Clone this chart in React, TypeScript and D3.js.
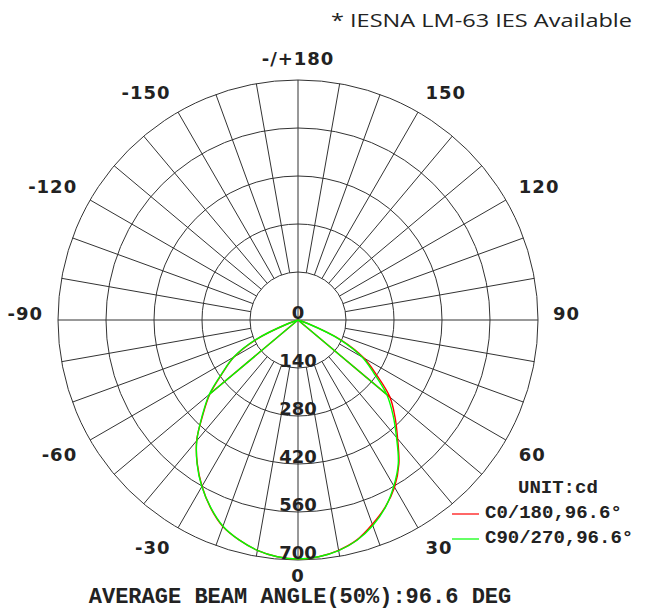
import * as d3 from 'd3';

// vertical angles (gamma) measured from nadir, and candela per C-plane
const gammaAngles = [0, 5, 10, 15, 20, 25, 30, 35, 40, 45, 50, 55, 60, 65, 70, 75, 80, 85, 90];
const c0Values = [697, 693, 682, 664, 634, 602, 563, 513, 452, 400, 350, 280, 222, 140, 35, 0, 0, 0, 0];
const c180Values = [697, 693, 682, 664, 641, 604, 560, 512, 460, 393, 335, 268, 215, 135, 30, 0, 0, 0, 0];
const c90Values = [697, 693, 683, 665, 638, 603, 559, 510, 447, 392, 338, 270, 215, 135, 30, 0, 0, 0, 0];
const c270Values = [697, 693, 682, 664, 640, 603, 561, 513, 459, 395, 338, 270, 216, 136, 32, 0, 0, 0, 0];
const chordGamma = 50;

const ringValues = [0, 140, 280, 420, 560, 700];
const angleTicks = [180, 150, 120, 90, 60, 30, 0, -30, -60, -90, -120, -150];
const angleTickLabels = ['-/+180', '150', '120', '90', '60', '30', '0', '-30', '-60', '-90', '-120', '-150'];

const legendNames = ['C0/180,96.6°', 'C90/270,96.6°'];
const unitLabel = 'UNIT:cd';
const beamLabel = 'AVERAGE BEAM ANGLE(50%):96.6 DEG';
const noteLabel = '* IESNA LM-63 IES Available';

const width = 650;
const height = 613;
const cx = 298;
const cy = 320;
const radius = 240;
const gridColor = '#333';
const textColor = '#222';
const colors = ['#ff0000', '#00ff00'];
const sansBold = '"DejaVu Sans", sans-serif';
const mono = '"Liberation Mono", "Courier New", monospace';

const r = d3.scaleLinear().domain([0, 700]).range([0, radius]);
// gamma 0 points down, positive gamma to the right
const rad = (g: number) => ((180 - g) * Math.PI) / 180;
const px = (g: number, v: number) => r(v) * Math.sin(rad(g));
const py = (g: number, v: number) => -r(v) * Math.cos(rad(g));

const curve = d3
  .lineRadial<[number, number]>()
  .angle((d) => rad(d[0]))
  .radius((d) => r(d[1]))
  .curve(d3.curveCatmullRom.alpha(0.5));

const chord = d3
  .lineRadial<[number, number]>()
  .angle((d) => rad(d[0]))
  .radius((d) => r(d[1]));

function planePaths(right: number[], left: number[]) {
  const pts: [number, number][] = [
    ...gammaAngles.map((g, i) => [-g, left[i]] as [number, number]).reverse(),
    ...gammaAngles.slice(1).map((g, i) => [g, right[i + 1]] as [number, number]),
  ];
  const k = gammaAngles.indexOf(chordGamma);
  return [
    curve(pts) as string,
    chord([[0, 0], [-chordGamma, left[k]]]) as string,
    chord([[0, 0], [chordGamma, right[k]]]) as string,
  ];
}

export default function App() {
  const planes = [planePaths(c0Values, c180Values), planePaths(c90Values, c270Values)];
  const spokes = d3.range(0, 360, 10);
  const labelR = 255;

  return (
    <svg
      width={width}
      height={height}
      viewBox={`0 0 ${width} ${height}`}
      style={{ position: 'absolute', left: 0, top: 0, background: '#fff' }}
    >
      <text
        x={632}
        y={27}
        textAnchor="end"
        fontFamily='"Open Sans", sans-serif'
        fontSize={19}
        textLength={301}
        lengthAdjust="spacingAndGlyphs"
        fill={textColor}
      >
        {noteLabel}
      </text>

      <g transform={`translate(${cx},${cy})`}>
        {ringValues.slice(1).map((v) => (
          <circle key={v} r={r(v)} fill="none" stroke={gridColor} strokeWidth={1} />
        ))}
        {spokes.map((a) => {
          const inner = a % 90 === 0 ? 0 : ringValues[1];
          return (
            <line
              key={a}
              x1={px(a, inner)}
              y1={py(a, inner)}
              x2={px(a, 700)}
              y2={py(a, 700)}
              stroke={gridColor}
              strokeWidth={1}
            />
          );
        })}

        {planes.map((paths, i) =>
          paths.map((d, j) => (
            <path key={`${i}-${j}`} d={d} fill="none" stroke={colors[i]} strokeWidth={1.4} />
          ))
        )}

        {ringValues.map((v) => (
          <text
            key={v}
            x={0}
            y={r(v) - 1}
            textAnchor="middle"
            fontFamily={sansBold}
            fontWeight="bold"
            fontSize={18}
            fill={textColor}
          >
            {v}
          </text>
        ))}

        {angleTicks.map((a, i) => {
          const x = px(a, r.invert(labelR));
          const y = py(a, r.invert(labelR));
          const anchor = a === 0 || a === 180 ? 'middle' : a > 0 ? 'start' : 'end';
          const lower = Math.abs(a) < 90;
          return (
            <text
              key={a}
              x={x}
              y={y}
              dy={lower ? (a === 0 ? 7 : 13) : 0}
              textAnchor={anchor}
              fontFamily={sansBold}
              fontWeight="bold"
              fontSize={18}
              letterSpacing={1}
              fill={textColor}
            >
              {angleTickLabels[i]}
            </text>
          );
        })}
      </g>

      <text x={518} y={493} fontFamily={mono} fontWeight="bold" fontSize={19} fill={textColor}>
        {unitLabel}
      </text>
      {legendNames.map((name, i) => (
        <g key={name} transform={`translate(452,${514 + i * 25})`}>
          <line x1={0} x2={27} y1={0} y2={0} stroke={colors[i]} strokeWidth={1.2} />
          <text x={33} y={4} fontFamily={mono} fontWeight="bold" fontSize={19} fill={textColor}>
            {name}
          </text>
        </g>
      ))}

      <text x={300} y={603} textAnchor="middle" fontFamily={mono} fontWeight="bold" fontSize={22} fill={textColor}>
        {beamLabel}
      </text>
    </svg>
  );
}
